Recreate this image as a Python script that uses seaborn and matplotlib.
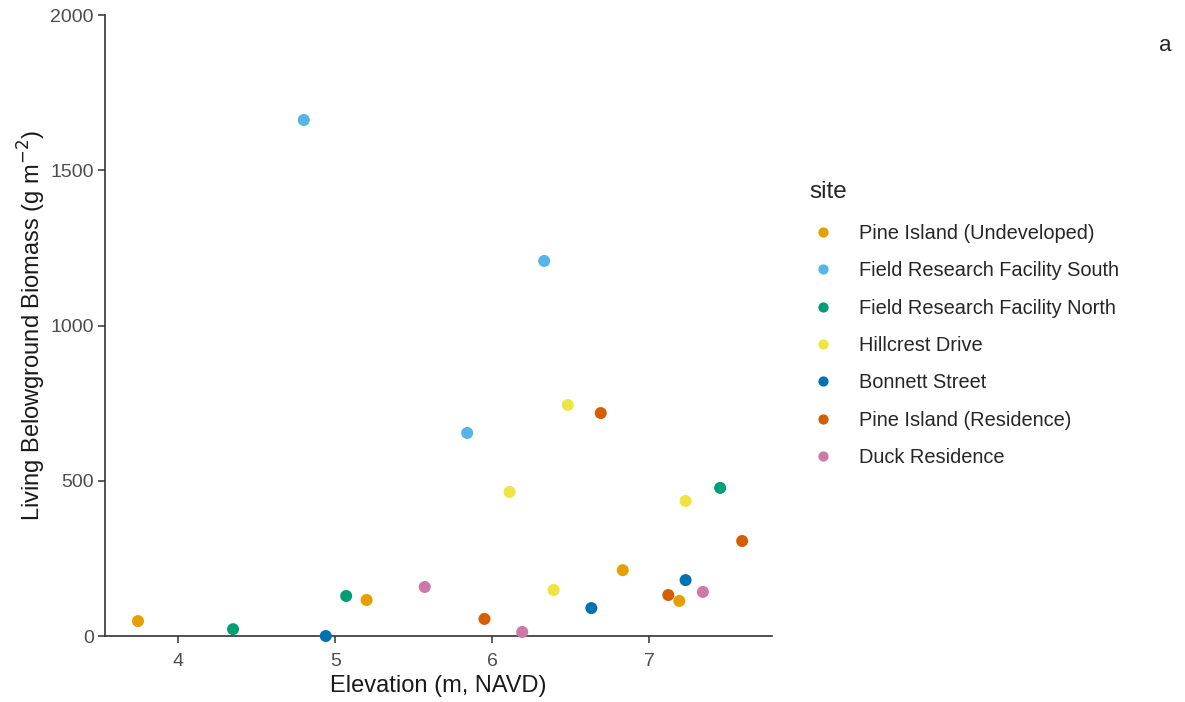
import seaborn as sns
import matplotlib.pyplot as plt
import pandas as pd

# Data
sites = ["Pine Island (Undeveloped)", "Field Research Facility South",
         "Field Research Facility North", "Hillcrest Drive", "Bonnett Street",
         "Pine Island (Residence)", "Duck Residence"]
colors = ["#E69F00", "#56B4E9", "#009E73", "#F0E442", "#0072B2", "#D55E00", "#CC79A7"]

pi_undev_x = [3.745, 5.20, 6.83, 7.19]
pi_undev_y = [48, 116, 212, 113]
frf_south_x = [4.80, 6.33, 5.84]
frf_south_y = [1662, 1208, 654]
frf_north_x = [4.35, 5.07, 7.45]
frf_north_y = [22, 129, 477]
hillcrest_x = [6.48, 6.11, 7.23, 6.39]
hillcrest_y = [744, 464, 435, 148]
bonnett_x = [4.94, 6.63, 7.23]
bonnett_y = [0, 90, 180]
pi_res_x = [6.69, 7.59, 5.95, 7.12]
pi_res_y = [718, 306, 55, 132]
duck_x = [5.57, 6.19, 7.34]
duck_y = [158, 13, 142]

xs = [pi_undev_x, frf_south_x, frf_north_x, hillcrest_x, bonnett_x, pi_res_x, duck_x]
ys = [pi_undev_y, frf_south_y, frf_north_y, hillcrest_y, bonnett_y, pi_res_y, duck_y]

rows = []
for s, xv, yv in zip(sites, xs, ys):
    for a, b in zip(xv, yv):
        rows.append({"site": s, "elev": a, "biomass": b})
df = pd.DataFrame(rows)

sns.set_theme(style="ticks")
plt.rcParams["font.family"] = ["Liberation Sans", "DejaVu Sans"]

fig = plt.figure(figsize=(11.85, 7.02), dpi=100)
ax = fig.add_axes([0.0886, 0.094, 0.5629, 0.8846])

sns.scatterplot(data=df, x="elev", y="biomass", hue="site", hue_order=sites,
                palette=dict(zip(sites, colors)), s=75, edgecolor="none",
                ax=ax, clip_on=False, zorder=3)

ax.set_xlim(3.535, 7.78)
ax.set_ylim(0, 2000)
ax.set_xticks([4, 5, 6, 7])
ax.set_yticks([0, 500, 1000, 1500, 2000])
sns.despine(ax=ax)
for sp in ["left", "bottom"]:
    ax.spines[sp].set_color("#333333")
    ax.spines[sp].set_linewidth(1.2)
ax.tick_params(axis="both", colors="#333333", labelcolor="#4D4D4D",
               labelsize=14, length=5, width=1.1, direction="out")
ax.tick_params(axis="x", pad=7)
ax.tick_params(axis="y", pad=3)

ax.set_xlabel("Elevation (m, NAVD)", fontsize=17, color="#1a1a1a", labelpad=4)
ax.set_ylabel(r"Living Belowground Biomass (g m$^{-2}$)", fontsize=17,
              color="#1a1a1a", labelpad=2)

leg = ax.legend(title="site", loc="upper left",
                bbox_to_anchor=(799 / 1185, 1 - 171 / 702),
                bbox_transform=fig.transFigure, borderpad=0,
                frameon=False, fontsize=14.4, title_fontsize=17.5,
                handlelength=1.4, handletextpad=1.1, labelspacing=0.92,
                markerscale=0.85)
leg._legend_box.align = "left"
leg._legend_box.sep = 15

fig.text(1172 / 1185, 0.935, "a", fontsize=16, ha="right", va="center")

fig.savefig("out.png", dpi=100)
